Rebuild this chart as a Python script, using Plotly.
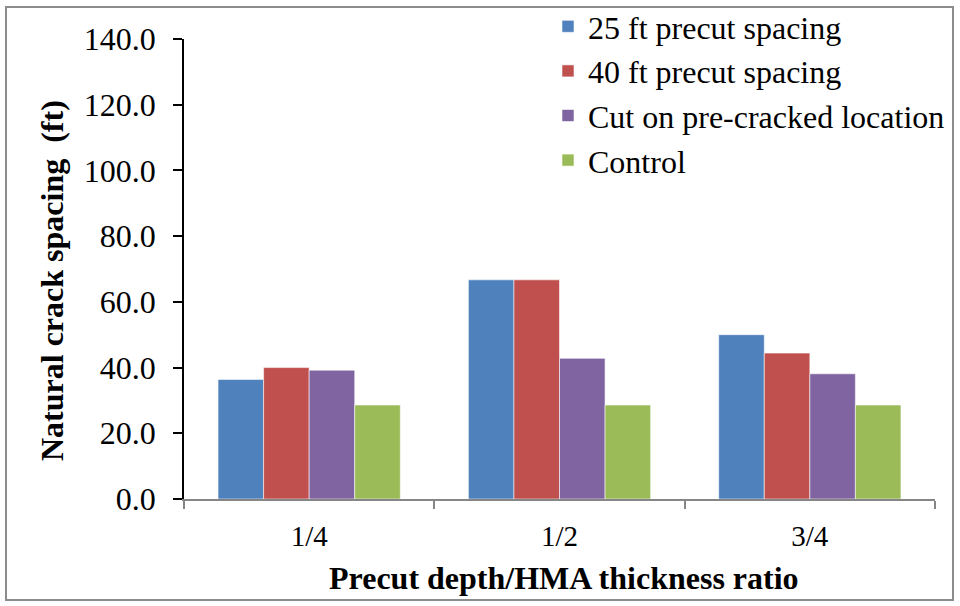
import plotly.graph_objects as go

# Precut depth to HMA thickness ratios (x categories)
ratios = ["1/4", "1/2", "3/4"]

# Natural crack spacing (ft) for each treatment
spacing_25ft = [36.4, 66.7, 50.0]
spacing_40ft = [40.0, 66.7, 44.4]
cut_precracked = [39.2, 42.8, 38.1]
control = [28.6, 28.6, 28.6]

series = [
    ("25 ft precut spacing", spacing_25ft, "#4F81BD"),
    ("40 ft precut spacing", spacing_40ft, "#C0504D"),
    ("Cut on pre-cracked location", cut_precracked, "#8064A2"),
    ("Control", control, "#9BBB59"),
]

FONT = "Liberation Serif"

fig = go.Figure()
for name, vals, color in series:
    fig.add_trace(go.Bar(
        x=ratios, y=vals, name=name,
        marker=dict(color=color, line=dict(color="rgba(255,255,255,0.55)", width=1)),
    ))

# plot-area geometry in pixels, used to place the frame and titles
L, R, T, B = 184, 25, 39, 107
W, H = 960 - L - R, 606 - T - B


def px_x(x):
    return (x - L) / W


def px_y(y):
    return (606 - B - y) / H


fig.update_layout(
    width=960, height=606,
    margin=dict(l=L, r=R, t=T, b=B, autoexpand=False),
    paper_bgcolor="white", plot_bgcolor="white",
    font=dict(family=FONT, color="black", size=30),
    barmode="group", bargap=0.272, bargroupgap=0,
    showlegend=True,
    legend=dict(
        x=px_x(548), y=px_y(-1), xanchor="left", yanchor="top",
        font=dict(size=32, family=FONT), bgcolor="rgba(0,0,0,0)",
        itemwidth=30, tracegroupgap=0,
    ),
    xaxis=dict(
        type="category", range=[-0.5, 2.5], automargin=False,
        showline=True, linecolor="#868686", linewidth=1.5,
        ticks="outside", tickson="boundaries", ticklen=8, tickcolor="#868686", tickwidth=1.5,
        tickfont=dict(size=29, family=FONT), ticklabelstandoff=10,
        showgrid=False, zeroline=False,
    ),
    yaxis=dict(
        range=[0, 140], dtick=20, tickformat=".1f", automargin=False,
        showline=True, linecolor="black", linewidth=1.5,
        ticks="outside", ticklen=9, tickcolor="black", tickwidth=1.5,
        tickfont=dict(size=32, family=FONT),
        ticklabelstandoff=11,
        showgrid=False, zeroline=False,
    ),
    annotations=[
        dict(text="<b>Precut depth/HMA thickness ratio</b>", xref="paper", yref="paper",
             x=px_x(564), y=px_y(578), xanchor="center", yanchor="middle",
             showarrow=False, font=dict(size=32, family=FONT)),
        dict(text="<b>Natural crack spacing \u00a0(ft)</b>", xref="paper", yref="paper",
             x=px_x(52), y=px_y(281), xanchor="center", yanchor="middle", textangle=-90,
             showarrow=False, font=dict(size=32, family=FONT)),
    ],
)

# thin grey frame around the whole chart
fig.add_shape(
    type="rect", xref="paper", yref="paper",
    x0=px_x(6), x1=px_x(953), y0=px_y(600), y1=px_y(7),
    line=dict(color="#8c8c8c", width=2), fillcolor="rgba(0,0,0,0)", layer="below",
)

fig.write_html("out.html")
